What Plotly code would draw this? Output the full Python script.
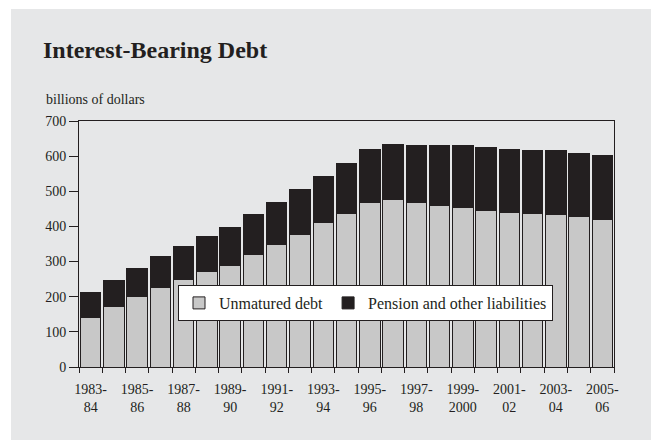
import plotly.graph_objects as go

categories = ["1983-84", "1984-85", "1985-86", "1986-87", "1987-88", "1988-89", "1989-90",
              "1990-91", "1991-92", "1992-93", "1993-94", "1994-95", "1995-96", "1996-97",
              "1997-98", "1998-99", "1999-2000", "2000-01", "2001-02", "2002-03", "2003-04",
              "2004-05", "2005-06"]
unmatured_debt = [142, 172, 200, 227, 249, 272, 290, 319, 348, 378, 410, 436,
                  467, 476, 467, 460, 453, 446, 441, 437, 433, 427, 421]
total_debt = [212, 247, 281, 315, 343, 372, 397, 433, 469, 505, 543, 578,
              618, 634, 630, 630, 631, 626, 620, 617, 615, 608, 602]
pension_other = [t - u for t, u in zip(total_debt, unmatured_debt)]

tick_positions = list(range(0, len(categories), 2))
tick_labels = ["1983-<br>84", "1985-<br>86", "1987-<br>88", "1989-<br>90", "1991-<br>92",
               "1993-<br>94", "1995-<br>96", "1997-<br>98", "1999-<br>2000", "2001-<br>02",
               "2003-<br>04", "2005-<br>06"]
y_ticks = [0, 100, 200, 300, 400, 500, 600, 700]

FONT = "Liberation Serif, Times New Roman, serif"
x_idx = list(range(len(categories)))

fig = go.Figure()
fig.add_trace(go.Bar(
    x=x_idx, y=unmatured_debt, name="Unmatured debt",
    marker=dict(color="#c8c8c8", line=dict(color="#231f20", width=1)),
    customdata=categories,
))
fig.add_trace(go.Bar(
    x=x_idx, y=pension_other, name="Pension and other liabilities",
    marker=dict(color="#231f20", line=dict(color="#231f20", width=1)),
    customdata=categories,
))

W, H = 651, 440
ml, mr, mt, mb = 79, 37, 121, 73
pw = W - ml - mr
ph = H - mt - mb

def px_x(p):
    return (p - ml) / pw

def px_y(p):
    return (H - mb - p) / ph

fig.update_layout(
    width=W, height=H,
    margin=dict(l=ml, r=mr, t=mt, b=mb, pad=0),
    barmode="stack", bargap=0.12,
    paper_bgcolor="white", plot_bgcolor="white",
    font=dict(family=FONT, size=14, color="#231f20"),
    showlegend=True,
    legend=dict(
        orientation="h", x=px_x(365.5), y=px_y(303), xanchor="center", yanchor="middle",
        bgcolor="white", bordercolor="#231f20", borderwidth=1,
        font=dict(family=FONT, size=16, color="#231f20"),
        itemwidth=30, tracegroupgap=0, traceorder="normal",
    ),
    title=dict(
        text="<b>Interest-Bearing Debt</b>",
        x=43 / W, xanchor="left", xref="container",
        y=1 - 50 / H, yanchor="middle", yref="container",
        font=dict(family=FONT, size=24, color="#231f20"),
    ),
    xaxis=dict(
        range=[-0.5, len(categories) - 0.5],
        tickmode="array", tickvals=tick_positions, ticktext=tick_labels,
        ticks="", showgrid=False, zeroline=False,
        showline=True, linecolor="#231f20", linewidth=1, mirror=True,
        tickfont=dict(family=FONT, size=14, color="#231f20"),
        ticklabelstandoff=9,
        minor=dict(tickmode="linear", tick0=-0.5, dtick=1, ticks="outside",
                   ticklen=5, tickcolor="#231f20", tickwidth=1, showgrid=False),
    ),
    yaxis=dict(
        range=[0, 700], tickmode="array", tickvals=y_ticks,
        ticks="outside", ticklen=9, tickcolor="#231f20", tickwidth=1,
        showgrid=False, zeroline=False,
        showline=True, linecolor="#231f20", linewidth=1, mirror=True,
        tickfont=dict(family=FONT, size=14, color="#231f20"),
    ),
    shapes=[dict(
        type="rect", xref="paper", yref="paper", layer="below",
        x0=px_x(11), x1=px_x(700), y0=px_y(500), y1=px_y(9),
        fillcolor="#e6e7e8", line=dict(width=0),
    )],
    annotations=[dict(
        text="billions of dollars", xref="paper", yref="paper",
        x=px_x(44), y=px_y(100), xanchor="left", yanchor="middle",
        showarrow=False, font=dict(family=FONT, size=14, color="#231f20"),
    )],
)

fig.write_html("out.html")
